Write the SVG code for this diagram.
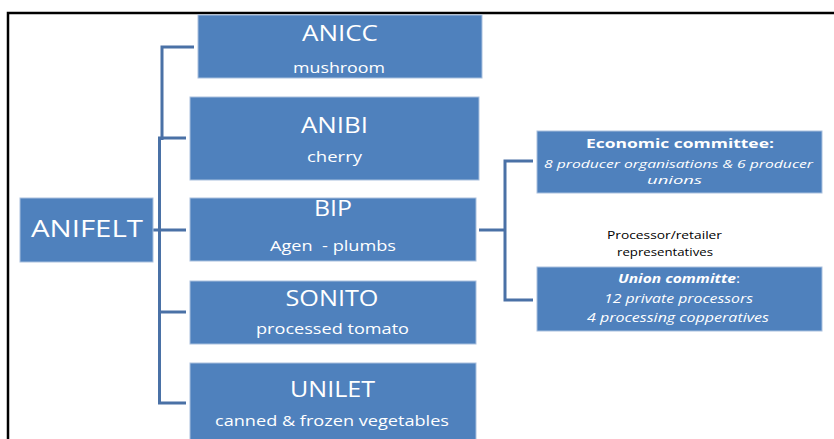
<svg xmlns="http://www.w3.org/2000/svg" width="834" height="439" viewBox="0 0 834 439">
<defs>
<style>
.box{fill:#4f81bd;stroke:#a9c0de;stroke-width:1}
.con{fill:none;stroke:#4a71a6;stroke-width:3}
text{font-family:"Open Sans","DejaVu Sans",sans-serif;fill:#ffffff;text-anchor:middle}
.h{font-size:21px}
.s{font-size:14px}
.big{font-size:24px}
.r{font-size:12px}
.r2{font-size:11px}
.rb{font-size:13px;font-weight:bold}
.it{font-style:italic}
.blk{fill:#000000;font-size:11px}
</style>
</defs>
<rect width="834" height="439" fill="#ffffff"/>
<path d="M8,439 V13 H834" fill="none" stroke="#000000" stroke-width="2.5"/>
<g id="connectors">
<path class="con" d="M194,47 H162 V140"/>
<path class="con" d="M186,138 H159.5 V403 H186"/>
<path class="con" d="M153,230 H186"/>
<path class="con" d="M159,312 H186"/>
<path class="con" d="M479,230 H505"/>
<path class="con" d="M533,161 H505 V300 H533"/>
</g>
<g id="anifelt">
<rect class="box" x="20" y="198" width="133" height="64"/>
<text class="big" x="87" y="237" textLength="112" lengthAdjust="spacingAndGlyphs">ANIFELT</text>
</g>
<g id="anicc">
<rect class="box" x="198" y="15" width="284" height="63"/>
<text class="h" x="340" y="41" textLength="76" lengthAdjust="spacingAndGlyphs">ANICC</text>
<text class="s" x="339" y="73" textLength="92" lengthAdjust="spacingAndGlyphs">mushroom</text>
</g>
<g id="anibi">
<rect class="box" x="190" y="97" width="289" height="83"/>
<text class="h" x="334.5" y="133" textLength="67" lengthAdjust="spacingAndGlyphs">ANIBI</text>
<text class="s" x="334.5" y="162" textLength="55" lengthAdjust="spacingAndGlyphs">cherry</text>
</g>
<g id="bip">
<rect class="box" x="190" y="198" width="286" height="63"/>
<text class="h" x="333" y="216" textLength="38" lengthAdjust="spacingAndGlyphs">BIP</text>
<text class="s" x="333" y="251" textLength="126" lengthAdjust="spacingAndGlyphs" xml:space="preserve">Agen  - plumbs</text>
</g>
<g id="sonito">
<rect class="box" x="190" y="281" width="286" height="63"/>
<text class="h" x="332" y="306" textLength="93" lengthAdjust="spacingAndGlyphs">SONITO</text>
<text class="s" x="332.5" y="334" textLength="153" lengthAdjust="spacingAndGlyphs">processed tomato</text>
</g>
<g id="unilet">
<rect class="box" x="190" y="363" width="286" height="80"/>
<text class="h" x="332.5" y="397" textLength="85" lengthAdjust="spacingAndGlyphs">UNILET</text>
<text class="s" x="332" y="426" textLength="234" lengthAdjust="spacingAndGlyphs">canned &amp; frozen vegetables</text>
</g>
<g id="economic">
<rect class="box" x="537" y="131" width="285" height="62"/>
<text class="rb" x="680" y="148" textLength="188" lengthAdjust="spacingAndGlyphs">Economic committee:</text>
<text class="r2 it" x="678.5" y="168" textLength="269" lengthAdjust="spacingAndGlyphs">8 producer organisations &amp; 6 producer</text>
<text class="r2 it" x="674.5" y="184" textLength="55" lengthAdjust="spacingAndGlyphs">unions</text>
</g>
<g id="representatives">
<text class="blk" x="664.5" y="239" textLength="115" lengthAdjust="spacingAndGlyphs">Processor/retailer</text>
<text class="blk" x="665" y="256" textLength="96" lengthAdjust="spacingAndGlyphs">representatives</text>
</g>
<g id="union">
<rect class="box" x="537" y="267" width="285" height="64"/>
<text class="rb it" x="679" y="283" textLength="122" lengthAdjust="spacingAndGlyphs">Union committe<tspan font-weight="normal" font-style="normal">:</tspan></text>
<text class="r it" x="678.5" y="303" textLength="149" lengthAdjust="spacingAndGlyphs">12 private processors</text>
<text class="r it" x="678" y="322" textLength="182" lengthAdjust="spacingAndGlyphs">4 processing copperatives</text>
</g>
</svg>
